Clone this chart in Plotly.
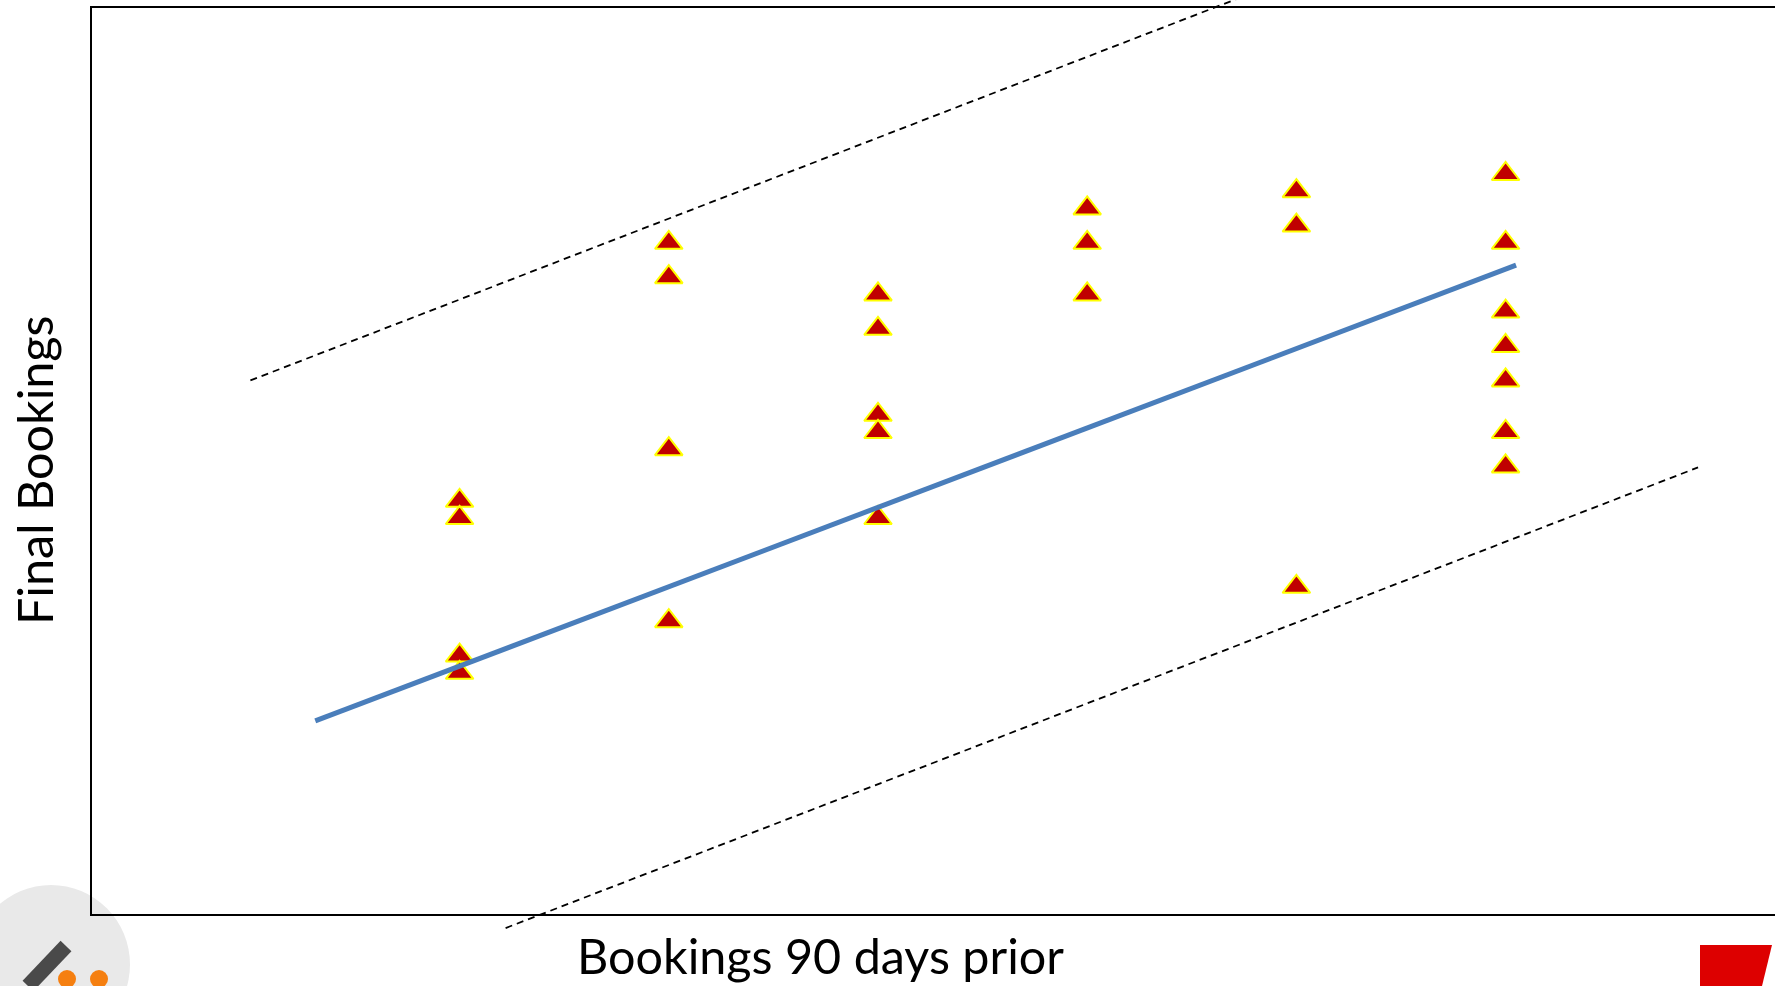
import plotly.graph_objects as go

# Observations: bookings 90 days before departure vs. final bookings
bookings_90 = [1, 1, 1, 1,
               2, 2, 2, 2,
               3, 3, 3, 3, 3,
               4, 4, 4,
               5, 5, 5,
               6, 6, 6, 6, 6, 6, 6]
final_bookings = [21, 20, 12, 11,
                  36, 34, 24, 14,
                  33, 31, 26, 25, 20,
                  38, 36, 33,
                  39, 37, 16,
                  40, 36, 32, 30, 28, 25, 23]

# Forecast line and its upper / lower bands
trend_x = [0.31, 6.05]
trend_y = [8.2, 34.7]
upper_x = [0.0, 4.72]
upper_y = [28.0, 50.2]
lower_x = [1.22, 6.92]
lower_y = [-3.84, 22.94]

x_label = "Bookings 90 days prior"
y_label = "Final Bookings"

FONT = "Lato, Open Sans, sans-serif"

fig = go.Figure()

fig.add_trace(go.Scatter(
    x=upper_x, y=upper_y, mode="lines",
    line=dict(color="black", width=1.8, dash="7px,5px"),
    hoverinfo="skip", showlegend=False))
fig.add_trace(go.Scatter(
    x=lower_x, y=lower_y, mode="lines",
    line=dict(color="black", width=1.8, dash="7px,5px"),
    hoverinfo="skip", showlegend=False))

fig.add_trace(go.Scatter(
    x=bookings_90, y=final_bookings, mode="markers",
    marker=dict(symbol="triangle-up", size=24, color="#c00000",
                line=dict(color="#ffff00", width=2)),
    cliponaxis=False, showlegend=False))

fig.add_trace(go.Scatter(
    x=trend_x, y=trend_y, mode="lines",
    line=dict(color="#4a7ebb", width=5),
    hoverinfo="skip", showlegend=False))

W, H = 1775, 986

def px(xp):
    return xp / W

def py(yp):
    return 1 - yp / H

shapes = [
    # chart frame (left, top, bottom)
    dict(type="line", xref="paper", yref="paper", x0=px(91), x1=px(91), y0=py(7), y1=py(915),
         line=dict(color="black", width=2)),
    dict(type="line", xref="paper", yref="paper", x0=px(90), x1=1.0, y0=py(7), y1=py(7),
         line=dict(color="black", width=2)),
    dict(type="line", xref="paper", yref="paper", x0=px(90), x1=1.0, y0=py(915), y1=py(915),
         line=dict(color="black", width=2)),
    # logo badge, bottom left
    dict(type="circle", xref="paper", yref="paper", x0=px(-28), x1=px(130), y0=py(1044), y1=py(885),
         fillcolor="#e9e9e9", line=dict(width=0), layer="below"),
    dict(type="path", xref="paper", yref="paper",
         path=f"M {px(66)},{py(946)} L {px(28)},{py(986)}",
         line=dict(color="#4a4a4a", width=15)),
    dict(type="circle", xref="paper", yref="paper", x0=px(58), x1=px(76), y0=py(988), y1=py(970),
         fillcolor="#f57f10", line=dict(width=0)),
    dict(type="circle", xref="paper", yref="paper", x0=px(90), x1=px(108), y0=py(988), y1=py(970),
         fillcolor="#f57f10", line=dict(width=0)),
    # red block, bottom right
    dict(type="path", xref="paper", yref="paper",
         path=(f"M {px(1700)},{py(945)} L {px(1772)},{py(945)} L {px(1762)},{py(986)} "
               f"L {px(1700)},{py(986)} Z"),
         fillcolor="#dd0000", line=dict(width=0)),
]

annotations = [
    dict(text=x_label, xref="paper", yref="paper", x=px(820), y=py(986),
         xanchor="center", yanchor="bottom", showarrow=False,
         font=dict(family=FONT, size=48.5, color="black")),
    dict(text=y_label, xref="paper", yref="paper", x=px(34), y=py(470),
         xanchor="center", yanchor="middle", textangle=-90, showarrow=False,
         font=dict(family=FONT, size=48.5, color="black")),
]

fig.update_layout(
    width=W, height=H,
    margin=dict(l=0, r=0, t=0, b=0),
    paper_bgcolor="white", plot_bgcolor="white",
    xaxis=dict(range=[-250.4 / 209.2, (W - 250.4) / 209.2], visible=False, fixedrange=True),
    yaxis=dict(range=[40 - (H - 174) / 17.2, 40 + 174 / 17.2], visible=False, fixedrange=True),
    shapes=shapes,
    annotations=annotations,
    showlegend=False,
)

fig.write_html("out.html", config={"displayModeBar": False})
